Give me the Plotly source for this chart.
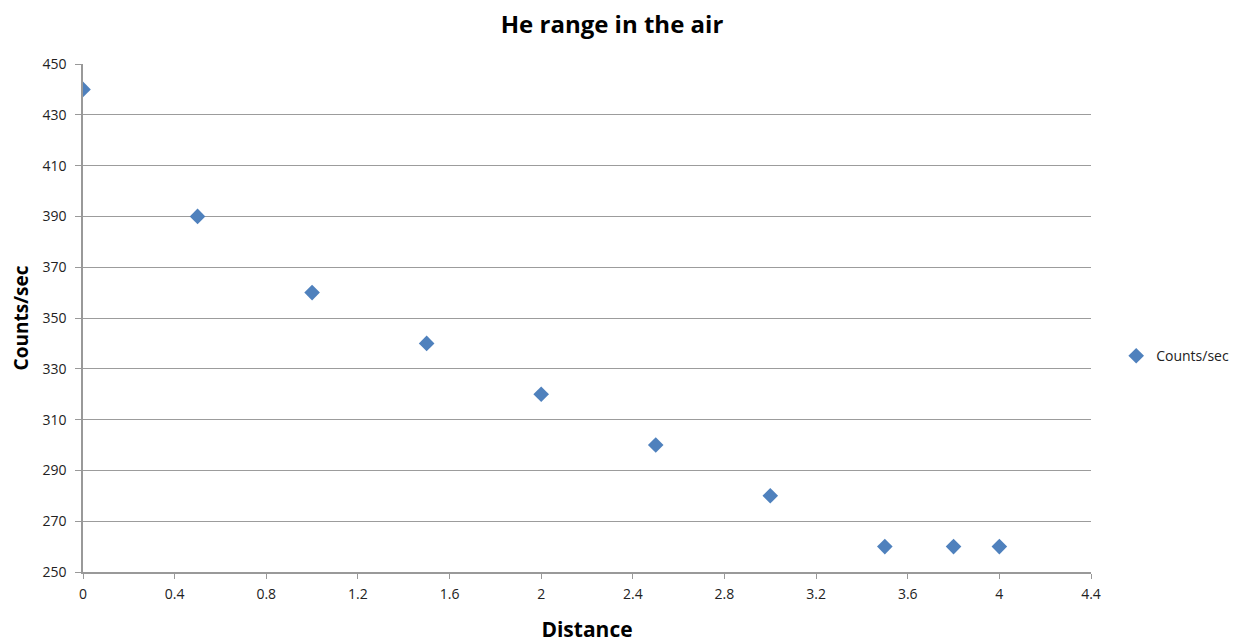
import plotly.graph_objects as go

distance = [0, 0.5, 1, 1.5, 2, 2.5, 3, 3.5, 3.8, 4]
counts = [440, 390, 360, 340, 320, 300, 280, 260, 260, 260]
x_ticks = [0, 0.4, 0.8, 1.2, 1.6, 2, 2.4, 2.8, 3.2, 3.6, 4, 4.4]
x_tick_labels = ["0", "0.4", "0.8", "1.2", "1.6", "2", "2.4", "2.8", "3.2", "3.6", "4", "4.4"]
y_ticks = [250, 270, 290, 310, 330, 350, 370, 390, 410, 430, 450]

fig = go.Figure()
fig.add_trace(go.Scatter(
    x=distance, y=counts, mode="markers", name="Counts/sec",
    marker=dict(symbol="diamond", size=12, color="#4F81BD"),
))

fig.update_layout(
    width=1242, height=643,
    paper_bgcolor="white", plot_bgcolor="white",
    margin=dict(l=75, r=159, t=56, b=79, autoexpand=False),
    font=dict(family="Open Sans, DejaVu Sans, sans-serif", color="#222", size=14),
    title=dict(text="<b>He range in the air</b>", x=604/1242, xref="container", xanchor="center",
               y=1 - 17/643, yref="container", yanchor="middle",
               font=dict(size=24, color="black")),
    showlegend=True,
    legend=dict(x=1.025, y=0.425, xanchor="left", yanchor="middle", itemwidth=30,
                font=dict(size=14, color="#222")),
    xaxis=dict(
        range=[0, 4.4], tickvals=x_ticks, ticktext=x_tick_labels,
        showgrid=False, zeroline=False, automargin=False,
        showline=True, linecolor="#999", linewidth=1.5,
        ticks="outside", ticklen=5, tickcolor="#999",
        ticklabelstandoff=3,
        title=dict(text="<b>Distance</b>", font=dict(size=21, color="black"), standoff=21),
    ),
    yaxis=dict(
        range=[250, 450], tickvals=y_ticks,
        showgrid=True, gridcolor="#9c9c9c", gridwidth=1,
        zeroline=False, automargin=False,
        showline=True, linecolor="#999", linewidth=1.5,
        ticks="outside", ticklen=6, tickcolor="#999",
        ticklabelstandoff=6,
        title=dict(text="<b>Counts/sec</b>", font=dict(size=19, color="black"), standoff=10),
    ),
)

fig.write_html("out.html")
